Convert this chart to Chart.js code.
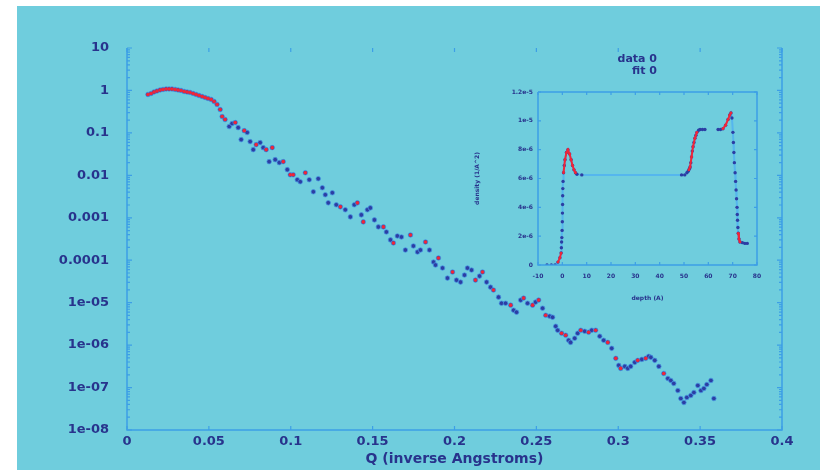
<!DOCTYPE html>
<html>
<head>
<meta charset="utf-8">
<title>Reflectivity fit</title>
<script src="https://cdn.jsdelivr.net/npm/chart.js@4.4.0/dist/chart.umd.min.js"></script>
<style>
  html, body { margin: 0; padding: 0; background: #fff; }
  #wrap { position: relative; width: 820px; height: 470px; overflow: hidden; }
  #panel { position: absolute; left: 17px; top: 6px; width: 803px; height: 464px; background: #6fcddd; }
  #main { position: absolute; left: 0; top: 0; }
  #inset { position: absolute; left: 460px; top: 40px; }
</style>
</head>
<body>
<div id="wrap">
  <div id="panel"></div>
  <canvas id="main" width="820" height="470"></canvas>
  <canvas id="inset" width="330" height="275"></canvas>
</div>
<script>
// measured reflectivity, Q in inverse Angstroms
const qData = [
  0.0128, 0.0147, 0.0165, 0.0183, 0.0202, 0.0220, 0.0239, 0.0257, 0.0275, 0.0294,
  0.0312, 0.0330, 0.0349, 0.0367, 0.0385, 0.0404, 0.0422, 0.0440, 0.0459, 0.0477,
  0.0495, 0.0514, 0.0532, 0.0550, 0.0569, 0.0581, 0.0599, 0.0624, 0.0642, 0.0661,
  0.0679, 0.0697, 0.0716, 0.0734, 0.0752, 0.0771, 0.0789, 0.0813, 0.0832, 0.0850,
  0.0868, 0.0887, 0.0905, 0.0930, 0.0954, 0.0979, 0.0997, 0.1015, 0.1040, 0.1058,
  0.1089, 0.1113, 0.1138, 0.1168, 0.1193, 0.1211, 0.1229, 0.1254, 0.1278, 0.1303,
  0.1333, 0.1364, 0.1388, 0.1407, 0.1431, 0.1443, 0.1468, 0.1486, 0.1511, 0.1535,
  0.1566, 0.1584, 0.1609, 0.1627, 0.1651, 0.1676, 0.1700, 0.1731, 0.1749, 0.1774,
  0.1792, 0.1823, 0.1847, 0.1872, 0.1884, 0.1902, 0.1927, 0.1957, 0.1988, 0.2012,
  0.2037, 0.2061, 0.2079, 0.2104, 0.2128, 0.2153, 0.2171, 0.2196, 0.2220, 0.2238,
  0.2269, 0.2287, 0.2312, 0.2343, 0.2361, 0.2379, 0.2404, 0.2422, 0.2446, 0.2477,
  0.2495, 0.2514, 0.2538, 0.2557, 0.2581, 0.2599, 0.2618, 0.2630, 0.2654, 0.2679,
  0.2697, 0.2709, 0.2734, 0.2752, 0.2771, 0.2795, 0.2819, 0.2838, 0.2862, 0.2887,
  0.2911, 0.2936, 0.2960, 0.2985, 0.3003, 0.3015, 0.3040, 0.3058, 0.3076, 0.3101,
  0.3119, 0.3144, 0.3168, 0.3186, 0.3199, 0.3223, 0.3248, 0.3278, 0.3303, 0.3321,
  0.3339, 0.3364, 0.3382, 0.3401, 0.3419, 0.3443, 0.3462, 0.3486, 0.3505, 0.3523,
  0.3541, 0.3566, 0.3584
];
const rData = [
  0.804, 0.849, 0.922, 0.973, 1.027, 1.056, 1.085, 1.085, 1.085, 1.056,
  1.027, 1.0, 0.947, 0.922, 0.897, 0.849, 0.804, 0.762, 0.721, 0.683,
  0.647, 0.613, 0.549, 0.467, 0.355, 0.243, 0.206, 0.141, 0.166, 0.175,
  0.133, 0.0695, 0.113, 0.102, 0.0623, 0.0403, 0.0529, 0.0590, 0.0449, 0.0403,
  0.0210, 0.0449, 0.0234, 0.0199, 0.0210, 0.0136, 0.0103, 0.0103, 0.00787, 0.00706,
  0.0115, 0.00787, 0.00409, 0.00832, 0.00509, 0.00348, 0.00225, 0.00388, 0.00202, 0.00181,
  0.00154, 0.00105, 0.00202, 0.00225, 0.00117, 0.000800, 0.00154, 0.00171, 0.000891, 0.000609,
  0.000609, 0.000464, 0.000301, 0.000255, 0.000373, 0.000353, 0.000174, 0.000394, 0.000217, 0.000156,
  0.000174, 0.000269, 0.000174, 9.06e-5, 7.7e-5, 1.13e-4, 6.55e-5, 3.79e-5, 5.26e-5, 3.40e-5,
  3.05e-5, 4.47e-5, 6.55e-5, 5.86e-5, 3.40e-5, 4.23e-5, 5.26e-5, 3.05e-5, 2.32e-5, 1.98e-5,
  1.35e-5, 9.7e-6, 9.7e-6, 8.73e-6, 6.65e-6, 5.96e-6, 1.15e-5, 1.28e-5, 9.7e-6, 8.73e-6,
  1.03e-5, 1.15e-5, 7.41e-6, 5.06e-6, 4.80e-6, 4.54e-6, 2.78e-6, 2.24e-6, 1.90e-6, 1.71e-6,
  1.30e-6, 1.16e-6, 1.45e-6, 1.90e-6, 2.24e-6, 2.12e-6, 2.01e-6, 2.24e-6, 2.24e-6, 1.62e-6,
  1.30e-6, 1.16e-6, 8.4e-7, 4.88e-7, 3.33e-7, 2.83e-7, 3.15e-7, 2.83e-7, 3.15e-7, 3.92e-7,
  4.37e-7, 4.61e-7, 4.88e-7, 5.43e-7, 5.15e-7, 4.37e-7, 3.15e-7, 2.15e-7, 1.64e-7, 1.47e-7,
  1.25e-7, 8.5e-8, 5.52e-8, 4.44e-8, 5.83e-8, 6.5e-8, 7.66e-8, 1.12e-7, 8.5e-8, 9.5e-8,
  1.18e-7, 1.47e-7, 5.52e-8
];

// model curve, where it shows through the data points
const qFit = [
  0.0128, 0.0147, 0.0165, 0.0183, 0.0202, 0.0220, 0.0239, 0.0257, 0.0275, 0.0294,
  0.0312, 0.0330, 0.0349, 0.0367, 0.0385, 0.0404, 0.0422, 0.0440, 0.0459, 0.0477,
  0.0495, 0.0514, 0.0532, 0.0550, 0.0569, 0.0581, 0.0599, 0.0661, 0.0716, 0.0789,
  0.0850, 0.0887, 0.0954, 0.0997, 0.1015, 0.1089, 0.1303, 0.1407, 0.1443, 0.1566,
  0.1627, 0.1731, 0.1823, 0.1902, 0.1988, 0.2128, 0.2171, 0.2238, 0.2343, 0.2422,
  0.2477, 0.2514, 0.2557, 0.2654, 0.2679, 0.2771, 0.2819, 0.2862, 0.2936, 0.2985,
  0.3015, 0.3119, 0.3168, 0.3278
];
const rFit = [
  0.804, 0.849, 0.922, 0.973, 1.027, 1.056, 1.085, 1.085, 1.085, 1.056,
  1.027, 1.0, 0.947, 0.922, 0.897, 0.849, 0.804, 0.762, 0.721, 0.683,
  0.647, 0.613, 0.549, 0.467, 0.355, 0.243, 0.206, 0.175, 0.113, 0.0529,
  0.0403, 0.0449, 0.0210, 0.0103, 0.0103, 0.0115, 0.00181, 0.00225, 0.000800, 0.000609,
  0.000255, 0.000394, 0.000269, 1.13e-4, 5.26e-5, 3.40e-5, 5.26e-5, 1.98e-5, 8.73e-6, 1.28e-5,
  8.73e-6, 1.15e-5, 5.06e-6, 1.90e-6, 1.71e-6, 2.24e-6, 2.01e-6, 2.24e-6, 1.16e-6, 4.88e-7,
  2.83e-7, 4.37e-7, 4.88e-7, 2.15e-7
];

// scattering length density profile (inset), depth in Angstroms
const depthData = [
  -6.3, -4.5, -3.0, -1.8, -1.0, -0.5, -0.4, -0.3, -0.2, -0.1,
  0.0, 0.05, 0.1, 0.15, 0.2, 0.3, 0.5, 0.8, 1.1, 1.7,
  2.3, 3.0, 3.6, 4.2, 4.8, 5.4, 6.0, 8.0, 49.0, 50.3,
  51.2, 51.7, 52.0, 52.3, 52.5, 52.8, 53.1, 53.4, 53.7, 54.1,
  54.5, 54.9, 55.3, 56.0, 56.6, 57.6, 58.6, 61.0, 64.0, 65.0,
  66.0, 67.1, 68.1, 68.8, 69.3, 69.7, 70.1, 70.3, 70.5, 70.7,
  71.0, 71.2, 71.4, 71.6, 71.8, 71.9, 72.0, 72.15, 72.3, 72.6,
  73.0, 74.0, 75.0, 76.0
];
const sldData = [
  0, 0, 0, 0.2e-6, 0.5e-6, 0.83e-6, 1.2e-6, 1.6e-6, 1.9e-6, 2.4e-6,
  3.0e-6, 3.6e-6, 4.2e-6, 4.8e-6, 5.3e-6, 5.8e-6, 6.4e-6, 6.9e-6, 7.3e-6, 7.8e-6,
  8.0e-6, 7.7e-6, 7.3e-6, 6.9e-6, 6.6e-6, 6.4e-6, 6.3e-6, 6.25e-6, 6.25e-6, 6.25e-6,
  6.4e-6, 6.5e-6, 6.6e-6, 6.7e-6, 6.8e-6, 7.1e-6, 7.5e-6, 7.9e-6, 8.2e-6, 8.5e-6,
  8.8e-6, 9.0e-6, 9.2e-6, 9.35e-6, 9.4e-6, 9.4e-6, 9.4e-6, null, 9.4e-6, 9.4e-6,
  9.45e-6, 9.7e-6, 10.1e-6, 10.4e-6, 10.55e-6, 10.2e-6, 9.2e-6, 8.5e-6, 7.8e-6, 7.1e-6,
  6.4e-6, 5.8e-6, 5.2e-6, 4.6e-6, 4.0e-6, 3.5e-6, 3.1e-6, 2.6e-6, 2.2e-6, 1.8e-6,
  1.6e-6, 1.55e-6, 1.5e-6, 1.5e-6
];
const depthFit = [
  -1.8, -1.0, -0.5, 20, 0.5, 1.1, 1.7, 2.3, 3.0, 3.6, 4.2, 4.8, 5.4, 30,
  52.0, 52.5, 53.1, 53.7, 54.5, 55.3, 60, 66.0, 67.1, 68.1, 68.8, 69.3, 71, 72.3, 72.6, 73.0
];
const sldFit = [
  0.2e-6, 0.5e-6, 0.83e-6, null, 6.4e-6, 7.3e-6, 7.8e-6, 8.0e-6, 7.7e-6, 7.3e-6, 6.9e-6, 6.6e-6, 6.4e-6, null,
  6.6e-6, 6.8e-6, 7.5e-6, 8.2e-6, 8.8e-6, 9.2e-6, null, 9.45e-6, 9.7e-6, 10.1e-6, 10.4e-6, 10.55e-6, null, 2.2e-6, 1.8e-6, 1.6e-6
];

const qTicks = [0, 0.05, 0.1, 0.15, 0.2, 0.25, 0.3, 0.35, 0.4];
const qTickLabels = ['0', '0.05', '0.1', '0.15', '0.2', '0.25', '0.3', '0.35', '0.4'];
const rTicks = [1e-8, 1e-7, 1e-6, 1e-5, 1e-4, 1e-3, 1e-2, 1e-1, 1, 10];
const rTickLabels = ['1e-08', '1e-07', '1e-06', '1e-05', '0.0001', '0.001', '0.01', '0.1', '1', '10'];
const depthTicks = [-10, 0, 10, 20, 30, 40, 50, 60, 70, 80];
const depthTickLabels = ['-10', '0', '10', '20', '30', '40', '50', '60', '70', '80'];
const sldTicks = [0, 2e-6, 4e-6, 6e-6, 8e-6, 10e-6, 12e-6];
const sldTickLabels = ['0', '2e-6', '4e-6', '6e-6', '8e-6', '1e-5', '1.2e-5'];

const navy = '#28338c';
const dotBlue = '#2c3ea3';
const red = '#ef2638';
const frameBlue = '#3d9fe6';
const lineBlue = '#55b6ee';

function points(xs, ys) {
  return xs.map((x, i) => ({ x: x, y: ys[i] }));
}

function boldFont(size) {
  return { family: 'DejaVu Sans', size: size, weight: 'bold' };
}

// axis box with inward tick marks, drawn over the plot
function framePlugin(cfg) {
  return {
    id: 'frame',
    afterDraw(chart) {
      const { ctx, chartArea: { left, right, top, bottom }, scales: { x, y } } = chart;
      ctx.save();
      ctx.strokeStyle = frameBlue;
      ctx.lineWidth = cfg.lineWidth;
      ctx.beginPath();
      ctx.moveTo(left, top);
      ctx.lineTo(left, bottom);
      ctx.lineTo(right, bottom);
      ctx.lineTo(right, top);
      if (cfg.topLine) ctx.lineTo(left, top);
      ctx.stroke();

      ctx.lineWidth = 1.2;
      ctx.beginPath();
      cfg.xMarks.forEach(m => {
        const px = x.getPixelForValue(m.v);
        ctx.moveTo(px, bottom);
        ctx.lineTo(px, bottom - m.len);
        ctx.moveTo(px, top);
        ctx.lineTo(px, top + m.len);
      });
      cfg.yMarks.forEach(m => {
        const py = y.getPixelForValue(m.v);
        ctx.moveTo(left, py);
        ctx.lineTo(left + m.len, py);
        ctx.moveTo(right, py);
        ctx.lineTo(right - m.len, py);
      });
      ctx.stroke();
      ctx.restore();
    }
  };
}

// decade ticks plus the 2..9 minor ticks of the log axis
const rMarks = [];
rTicks.forEach((d, i) => {
  rMarks.push({ v: d, len: 5 });
  if (i < rTicks.length - 1) {
    for (let m = 2; m <= 9; m++) rMarks.push({ v: d * m, len: 3 });
  }
});

new Chart(document.getElementById('main'), {
  type: 'scatter',
  data: {
    datasets: [
      {
        label: 'data 0',
        data: points(qData, rData),
        pointRadius: 2.3,
        pointBackgroundColor: dotBlue,
        pointBorderColor: 'rgba(70,150,230,0.7)',
        pointBorderWidth: 1,
        order: 2
      },
      {
        label: 'fit 0',
        data: points(qFit, rFit),
        pointRadius: 1.8,
        pointBackgroundColor: red,
        pointBorderWidth: 0,
        order: 1
      }
    ]
  },
  options: {
    responsive: false,
    animation: false,
    layout: { padding: { left: 0, right: 38, top: 48, bottom: 0 } },
    plugins: { legend: { display: false }, tooltip: { enabled: false } },
    scales: {
      x: {
        type: 'linear',
        min: 0,
        max: 0.4,
        afterBuildTicks: s => { s.ticks = qTicks.map(v => ({ value: v })); },
        afterFit: s => { s.height = 40; },
        grid: { display: false, drawTicks: false },
        border: { display: false },
        ticks: {
          autoSkip: false,
          maxRotation: 0,
          padding: 4,
          color: navy,
          font: boldFont(13),
          callback: (v, i) => qTickLabels[i]
        },
        title: {
          display: true,
          text: 'Q (inverse Angstroms)',
          color: navy,
          font: boldFont(14),
          padding: { top: 0, bottom: 2 }
        }
      },
      y: {
        type: 'logarithmic',
        min: 1e-8,
        max: 10,
        afterBuildTicks: s => { s.ticks = rTicks.map(v => ({ value: v })); },
        afterFit: s => { s.width = 127; },
        grid: { display: false, drawTicks: false },
        border: { display: false },
        ticks: {
          autoSkip: false,
          padding: 18,
          color: navy,
          font: boldFont(13),
          callback: (v, i) => rTickLabels[i]
        }
      }
    }
  },
  plugins: [framePlugin({
    lineWidth: 1.5,
    topLine: false,
    xMarks: qTicks.map(v => ({ v: v, len: 4 })),
    yMarks: rMarks
  })]
});

// legend text above the inset, one line per dataset
const insetLegend = {
  id: 'insetLegend',
  afterDraw(chart) {
    const ctx = chart.ctx;
    ctx.save();
    ctx.fillStyle = navy;
    ctx.font = 'bold 11px "DejaVu Sans"';
    ctx.textAlign = 'right';
    ctx.textBaseline = 'middle';
    chart.data.datasets.forEach((ds, i) => {
      ctx.fillText(ds.label, 197, 19 + i * 12);
    });
    ctx.restore();
  }
};

new Chart(document.getElementById('inset'), {
  type: 'scatter',
  data: {
    datasets: [
      {
        label: 'data 0',
        data: points(depthData, sldData),
        showLine: true,
        spanGaps: false,
        borderColor: lineBlue,
        borderWidth: 2,
        pointRadius: 1.7,
        pointBackgroundColor: dotBlue,
        pointBorderWidth: 0,
        order: 2
      },
      {
        label: 'fit 0',
        data: points(depthFit, sldFit),
        showLine: true,
        spanGaps: false,
        borderColor: red,
        borderWidth: 2,
        pointRadius: 1.4,
        pointBackgroundColor: red,
        pointBorderWidth: 0,
        order: 1
      }
    ]
  },
  options: {
    responsive: false,
    animation: false,
    layout: { padding: { left: 0, right: 33, top: 52, bottom: 0 } },
    plugins: { legend: { display: false }, tooltip: { enabled: false } },
    scales: {
      x: {
        type: 'linear',
        min: -10,
        max: 80,
        afterBuildTicks: s => { s.ticks = depthTicks.map(v => ({ value: v })); },
        afterFit: s => { s.height = 50; },
        grid: { display: false, drawTicks: false },
        border: { display: false },
        ticks: {
          autoSkip: false,
          maxRotation: 0,
          padding: 8,
          color: navy,
          font: boldFont(6),
          callback: (v, i) => depthTickLabels[i]
        },
        title: {
          display: true,
          text: 'depth (A)',
          color: navy,
          font: boldFont(6),
          padding: { top: 0, bottom: 13 }
        }
      },
      y: {
        type: 'linear',
        min: 0,
        max: 12e-6,
        afterBuildTicks: s => { s.ticks = sldTicks.map(v => ({ value: v })); },
        afterFit: s => { s.width = 78; },
        grid: { display: false, drawTicks: false },
        border: { display: false },
        ticks: {
          autoSkip: false,
          padding: 5,
          color: navy,
          font: boldFont(6),
          callback: (v, i) => sldTickLabels[i]
        },
        title: {
          display: true,
          text: 'density (1/A^2)',
          color: navy,
          font: boldFont(6),
          padding: { top: 14, bottom: 0 }
        }
      }
    }
  },
  plugins: [framePlugin({
    lineWidth: 1.5,
    topLine: true,
    xMarks: depthTicks.map(v => ({ v: v, len: 3 })),
    yMarks: sldTicks.map(v => ({ v: v, len: 3 }))
  }), insetLegend]
});
</script>
</body>
</html>
